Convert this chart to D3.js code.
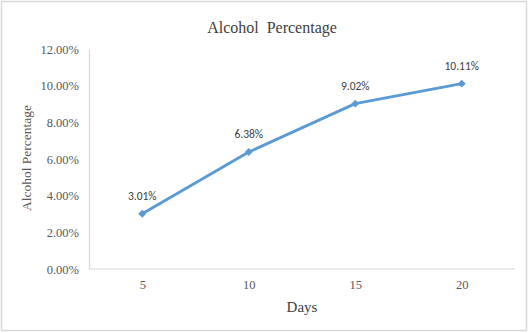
<!DOCTYPE html>
<html><head><meta charset="utf-8">
<script src="https://cdn.jsdelivr.net/npm/d3@7"></script>
<style>body{margin:0;background:#fff}svg{display:block}</style>
</head><body>
<script>
const days = ["5","10","15","20"];
const alcohol = [3.01, 6.38, 9.02, 10.11];
const yTicks = [0,2,4,6,8,10,12];

(function(){
const W=530,H=333;
const svg=d3.select("body").append("svg").attr("width",W).attr("height",H);
svg.append("rect").attr("x",1.5).attr("y",1.5).attr("width",525).attr("height",329)
  .attr("fill","#fff").attr("stroke","#d9d9d9").attr("stroke-width",1.5);

const pl=89,pr=515,pt=49,pb=269;
const x=d3.scalePoint().domain(days).range([pl,pr]).padding(0.5);
const y=d3.scaleLinear().domain([0,12]).range([pb,pt]);

const serif="'Liberation Serif','Times New Roman',serif";
const sans="Carlito,'Liberation Sans',Arial,sans-serif";

const ya=svg.append("g").attr("transform",`translate(${pl},0)`)
  .call(d3.axisLeft(y).tickValues(yTicks).tickSize(0).tickPadding(10).tickFormat(d=>d.toFixed(2)+"%"));
ya.select(".domain").attr("stroke","#d9d9d9").attr("stroke-width",1.2);
ya.selectAll("text").attr("font-family",serif).attr("font-size",12.5).attr("fill","#595959");

const xa=svg.append("g").attr("transform",`translate(0,${pb})`)
  .call(d3.axisBottom(x).tickSize(0).tickPadding(11).tickSizeOuter(0));
xa.select(".domain").attr("stroke","#d9d9d9").attr("stroke-width",1.2).attr("d",`M${pl},0H${pr}`);
xa.selectAll("text").attr("font-family",serif).attr("font-size",12.5).attr("fill","#595959");

const line=d3.line().x((d,i)=>x(days[i])).y(d=>y(d));
svg.append("path").datum(alcohol).attr("d",line).attr("fill","none")
  .attr("stroke","#5b9bd5").attr("stroke-width",2.8).attr("stroke-linejoin","round");
svg.selectAll(".mk").data(alcohol).enter().append("path")
  .attr("transform",(d,i)=>`translate(${x(days[i])},${y(d)})`)
  .attr("d",d3.symbol().type(d3.symbolDiamond2).size(40)).attr("fill","#5b9bd5");
svg.selectAll(".lb").data(alcohol).enter().append("text")
  .attr("x",(d,i)=>x(days[i])).attr("y",d=>y(d)-14).attr("text-anchor","middle")
  .attr("font-family",sans).attr("font-size",11.5).attr("fill","#404040")
  .text(d=>d.toFixed(2)+"%");

svg.append("text").attr("x",272).attr("y",33).attr("text-anchor","middle")
  .attr("font-family",serif).attr("font-size",16).attr("fill","#404040")
  .attr("xml:space","preserve").style("white-space","pre").text("Alcohol  Percentage");
svg.append("text").attr("transform","translate(31,158) rotate(-90)").attr("text-anchor","middle")
  .attr("font-family",serif).attr("font-size",13.5).attr("fill","#595959").text("Alcohol Percentage");
svg.append("text").attr("x",302).attr("y",312).attr("text-anchor","middle")
  .attr("font-family",serif).attr("font-size",15).attr("fill","#404040").text("Days");
})();
</script>
</body></html>
